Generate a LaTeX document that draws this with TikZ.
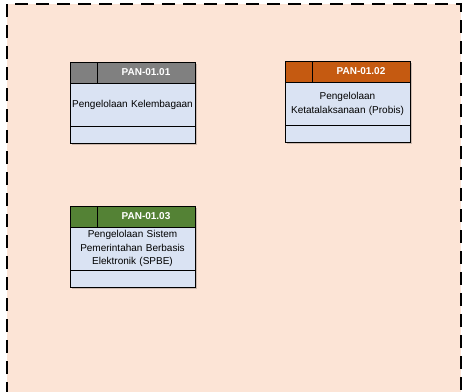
\documentclass[tikz,border=0pt]{standalone}
\usepackage{fontspec}
\setmainfont{Liberation Sans}
\definecolor{peach}{HTML}{FCE4D6}
\definecolor{cardbody}{HTML}{DAE3F3}
\definecolor{hdrgray}{HTML}{808080}
\definecolor{hdrorange}{HTML}{C55A11}
\definecolor{hdrgreen}{HTML}{548235}
\tikzset{
  cardpart/.style={draw=black, line width=0.8pt, inner sep=0pt, outer sep=0pt},
  tagbox/.style={cardpart, minimum width=27pt, minimum height=21pt},
  codebox/.style={cardpart, minimum width=98pt, minimum height=21pt,
    text=white, font=\fontsize{10}{12}\selectfont\bfseries},
  bodybox/.style={cardpart, fill=cardbody, minimum width=125pt, minimum height=43.5pt,
    text width=122pt, align=center, font=\fontsize{10}{13.5}\selectfont},
  footbox/.style={cardpart, fill=cardbody, minimum width=125pt, minimum height=16.5pt},
  cardshadow/.style={fill=black, fill opacity=0.18},
  frameline/.style={line width=1.8pt, dash pattern=on 13pt off 8pt}
}
% one card: name, x, y, header colour, code, title
\newcommand\pancard[6]{%
  \fill[cardshadow] (#2+1.6,#3+1.6) rectangle ++(125,81);
  \node[tagbox, fill=#4, anchor=north west] (#1-tag) at (#2,#3) {};
  \node[codebox, fill=#4, anchor=north west] (#1-code) at (#1-tag.north east) {#5};
  \node[bodybox, anchor=north west] (#1-body) at (#1-tag.south west) {#6};
  \node[footbox, anchor=north west] (#1-foot) at (#1-body.south west) {};
}
\begin{document}
\begin{tikzpicture}[x=1pt, y=-1pt]
  \useasboundingbox (0,0) rectangle (462,391);
  \fill[white] (0,0) rectangle (462,391);
  % dashed area, open at the bottom
  \coordinate (fbl) at (7,395);
  \coordinate (ftl) at (7,4);
  \coordinate (ftr) at (461,4);
  \coordinate (fbr) at (461,395);
  \fill[peach] (fbl) rectangle (ftr);
  \draw[frameline] (fbl) -- (ftl) -- (ftr) -- (fbr);

  \pancard{c1}{70}{62}{hdrgray}{PAN-01.01}{Pengelolaan Kelembagaan}
  \pancard{c2}{285}{61}{hdrorange}{PAN-01.02}{Pengelolaan\\Ketatalaksanaan (Probis)}
  \pancard{c3}{70}{206}{hdrgreen}{PAN-01.03}{Pengelolaan Sistem\\Pemerintahan Berbasis\\Elektronik (SPBE)}
\end{tikzpicture}
\end{document}
